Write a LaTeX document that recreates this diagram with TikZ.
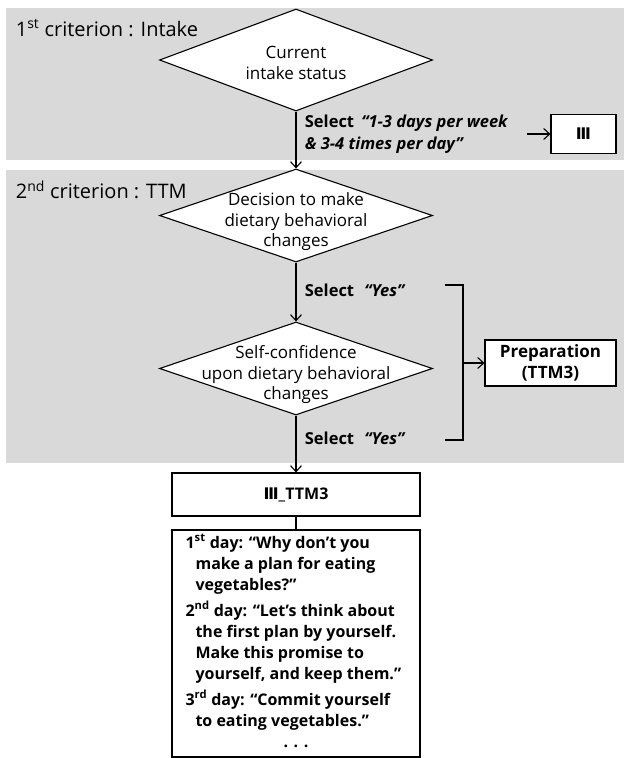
\documentclass[tikz,border=0pt]{standalone}
\usepackage{fontspec}
\setmainfont{Open Sans}
\newfontfamily\numfont{DejaVu Sans}
\usetikzlibrary{shapes.geometric,arrows.meta}
\definecolor{panelgray}{HTML}{D9D9D9}
\newcommand{\romthree}{{\numfont\bfseries Ⅲ}}

\begin{document}
\begin{tikzpicture}[x=1pt,y=-1pt,line width=1.1pt,
    >={Straight Barb[length=6pt,width=11pt]},
    decision/.style={diamond,draw,fill=white,inner sep=0pt,minimum width=273pt,minimum height=#1},
    dlabel/.style={align=center,font=\fontsize{17}{20.5}\selectfont},
    box/.style={draw,fill=white,inner sep=0pt},
    boldtext/.style={font=\fontsize{16}{21}\selectfont\bfseries},
    sellabel/.style={anchor=west,align=left,font=\fontsize{16.5}{22}\selectfont\bfseries},
    critlabel/.style={anchor=west,font=\fontsize{20}{22}\selectfont}]
    \useasboundingbox[fill=white] (0,0) rectangle (624,758);
    % the two criterion panels
    \fill[panelgray] (6,8) rectangle (624,160);
    \fill[panelgray] (6,170) rectangle (624,463);
    \node[critlabel] (crit1) at (12,28) {1\textsuperscript{st} criterion : Intake};
    \node[critlabel] (crit2) at (12,190) {2\textsuperscript{nd} criterion : TTM};

    % decisions
    \node[decision=102pt] (intake) at (296,60) {};
    \node[dlabel] (intaketxt) at (296,63) {Current\\intake status};
    \node[decision=93pt] (decide) at (296,215.5) {};
    \node[dlabel] (decidetxt) at (296,222) {Decision to make\\dietary behavioral\\changes};
    \node[decision=93pt] (confid) at (296,368.5) {};
    \node[dlabel] (confidtxt) at (296,375) {Self-confidence\\upon dietary behavioral\\changes};

    % result boxes
    \node[box,minimum width=65pt,minimum height=39pt,boldtext] (grade) at (583.5,134) {\romthree};
    \node[box,minimum width=131pt,minimum height=46pt,align=center,
          font=\fontsize{17}{21}\selectfont\bfseries] (prep) at (550.5,363) {Preparation\\(TTM3)};
    \node[box,minimum width=248pt,minimum height=43pt,boldtext] (combo) at (296,494.5) {\romthree\_TTM3};
    \node[box,minimum width=248pt,minimum height=227pt] (msg) at (296,643.5) {};

    % arrows
    \draw[->] (intake.south) -- (decide.north);
    \draw[->] (decide.south) -- (confid.north);
    \draw[->] (confid.south) -- (combo.north);
    \draw (combo.south) -- (msg.north);
    \coordinate (gradefrom) at (527,134);
    \draw[->] (gradefrom) -- (grade.west);

    \node[sellabel] (sel1) at (301,134)
        {Select\hspace{3pt} \textit{“1-3 days per week}\\\textit{\& 3-4 times per day”}};
    \node[sellabel] (sel2) at (301,290) {Select\hspace{6pt} \textit{“Yes”}};
    \node[sellabel] (sel3) at (301,438) {Select\hspace{6pt} \textit{“Yes”}};

    % bracket to preparation
    \coordinate (brtop) at (445,285);
    \coordinate (brbot) at (445,440);
    \coordinate (brmid) at (463,363);
    \draw (brtop) -- (463,285) -- (463,440) -- (brbot);
    \draw[->] (brmid) -- (prep.west);

    % messages
    \node[boldtext,anchor=north west,align=left,inner sep=0pt] (msgtxt) at (185,534)
        {1\textsuperscript{st} day: “Why don’t you\\
         \hspace*{10pt}make a plan for eating\\
         \hspace*{10pt}vegetables?”\\[5pt]
         2\textsuperscript{nd} day: “Let’s think about\\
         \hspace*{10pt}the first plan by yourself.\\
         \hspace*{10pt}Make this promise to\\
         \hspace*{10pt}yourself, and keep them.”\\[5pt]
         3\textsuperscript{rd} day: “Commit yourself\\
         \hspace*{10pt}to eating vegetables.”};
    \node[boldtext] (dots) at (296,746) {. . .};
\end{tikzpicture}
\end{document}
